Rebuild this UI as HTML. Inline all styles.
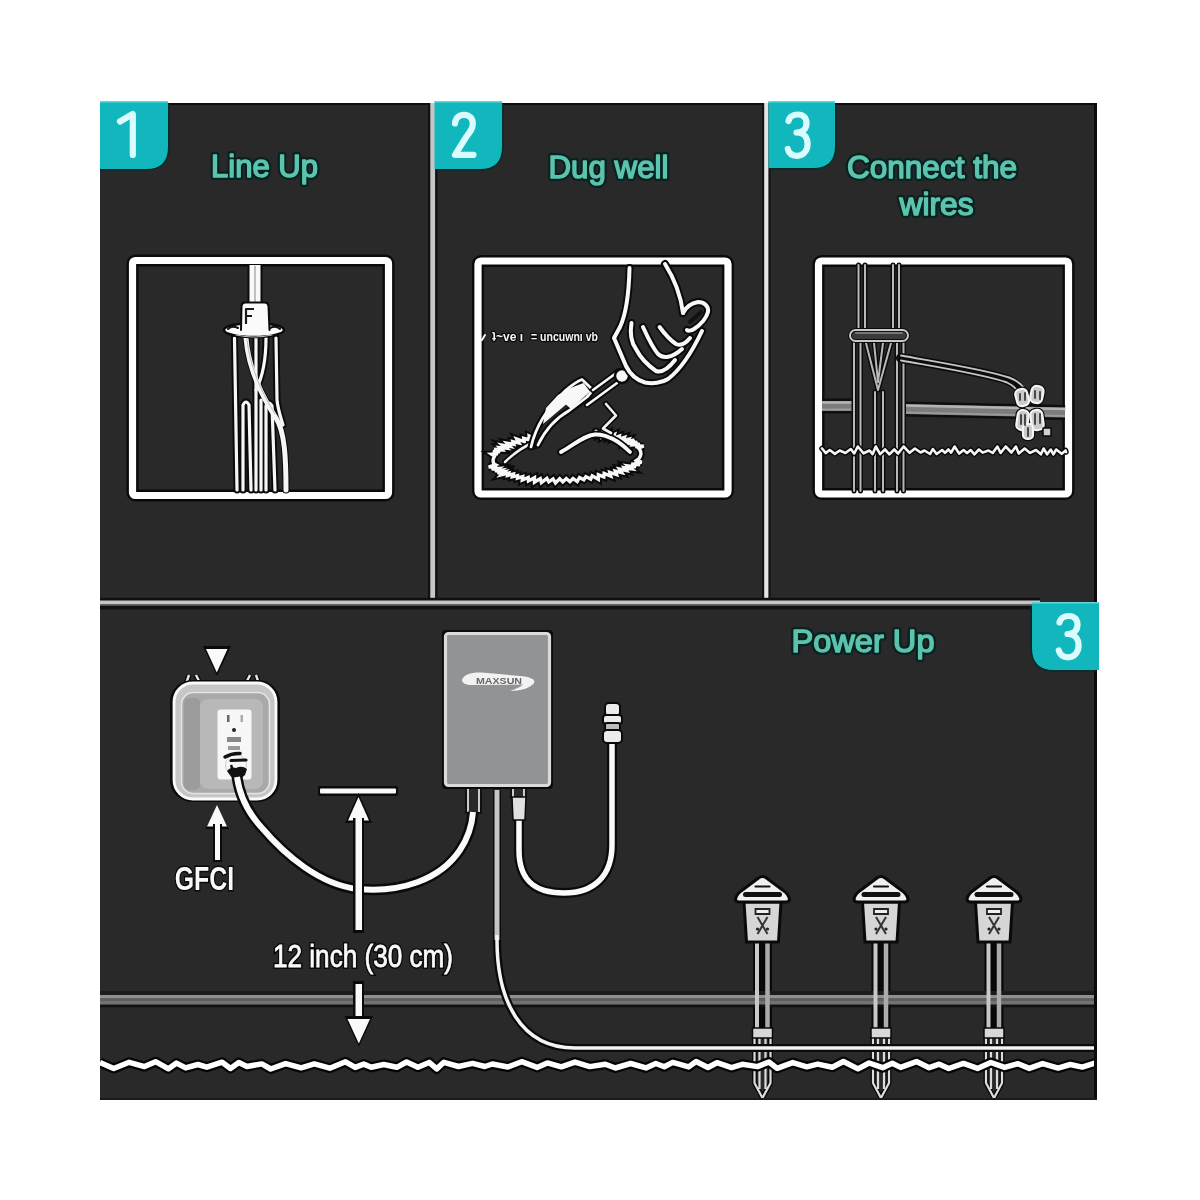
<!DOCTYPE html>
<html><head><meta charset="utf-8">
<style>
html,body{margin:0;padding:0;background:#fff;width:1200px;height:1200px;overflow:hidden}
svg{display:block;will-change:transform}
.t{font-family:"Liberation Sans",sans-serif;font-weight:normal;fill:#5cc4ae;stroke:#5cc4ae;stroke-width:1.5px;stroke-linejoin:round}
.th{font-family:"Liberation Sans",sans-serif;font-weight:normal;fill:#082220;stroke:#082220;stroke-width:6px;stroke-linejoin:round}
.d{font-family:"Liberation Sans",sans-serif;fill:#d9fbfd;stroke:#d9fbfd;stroke-width:1.2px}
.w{fill:none;stroke:#fff;stroke-linecap:round;stroke-linejoin:round}
</style></head>
<body>
<svg width="1200" height="1200" viewBox="0 0 1200 1200">
<!-- dark panel -->
<rect x="100" y="103" width="997" height="997" fill="#292929"/>
<rect x="100" y="103" width="997" height="2" fill="#0e0e0e"/>
<rect x="1094" y="103" width="3" height="997" fill="#0a0a0a"/>
<rect x="100" y="1098" width="997" height="2" fill="#1a1a1a"/>

<!-- separators -->
<rect x="428" y="103" width="9.5" height="500" fill="#111"/>
<rect x="430.3" y="103" width="4.8" height="502" fill="#c6c6c6"/>
<rect x="762" y="103" width="8.5" height="500" fill="#111"/>
<rect x="764.2" y="103" width="4.2" height="502" fill="#e4e4e4"/>
<rect x="100" y="597.8" width="940" height="11.5" fill="#101010"/>
<rect x="100" y="600.5" width="940" height="3.6" fill="#c4c4c4"/>
<rect x="100" y="604.1" width="940" height="1.6" fill="#6a6a6a"/>

<!-- badges -->
<g id="badges">
<g fill="none" stroke="#052a2a" stroke-width="3">
<path d="M168 104 V147 Q168 169 146 169 H100"/>
<path d="M502 104 V147 Q502 169 480 169 H435"/>
<path d="M835 104 V146 Q835 168 813 168 H769"/>
<path d="M1032 606 V648 Q1032 670 1054 670 H1096"/>
</g>
<g fill="#12b7bd">
<path d="M100 101 H168 V147 Q168 169 146 169 H100 Z"/>
<path d="M434.5 101 H502 V147 Q502 169 480 169 H434.5 Z"/>
<path d="M768.5 101 H835 V146 Q835 168 813 168 H768.5 Z"/>
<path d="M1099 602 H1032 V648 Q1032 670 1054 670 H1099 Z"/>
</g>
<g fill="#5fd8dc">
<rect x="100" y="101" width="68" height="1.5"/>
<rect x="434.5" y="101" width="67.5" height="1.5"/>
<rect x="768.5" y="101" width="66.5" height="1.5"/>
<rect x="1032" y="602" width="67" height="1.5"/>
</g>
</g>
<g fill="none" stroke="#dafcfe" stroke-width="6.2" stroke-linecap="round" stroke-linejoin="round">
<path d="M120 121.5 L132.8 114 L132.8 155"/>
<path d="M455 123.5 C455.5 118 459 114.8 464 114.8 C469.5 114.8 472.8 118.5 472.8 123.5 C472.8 128.5 470.5 131.5 466.5 136.5 L455 154.8 L473.5 154.8"/>
<path d="M788.5 121 C789.5 116.5 793.5 114.5 797.8 114.5 C803.5 114.5 806.5 118 806.5 123.2 C806.5 129 802.5 132.5 796.5 132.5 C803.5 132.5 807.6 137 807.6 144 C807.6 151 803 155.8 797.2 155.8 C792.2 155.8 788.8 153 787.8 149"/>
<path transform="translate(271 501.5)" d="M788.5 121 C789.5 116.5 793.5 114.5 797.8 114.5 C803.5 114.5 806.5 118 806.5 123.2 C806.5 129 802.5 132.5 796.5 132.5 C803.5 132.5 807.6 137 807.6 144 C807.6 151 803 155.8 797.2 155.8 C792.2 155.8 788.8 153 787.8 149"/>
</g>

<!-- titles -->
<text class="th" x="264.5" y="177" font-size="32" text-anchor="middle" textLength="107" lengthAdjust="spacingAndGlyphs">Line Up</text>
<text class="th" x="608.5" y="178" font-size="32" text-anchor="middle" textLength="120" lengthAdjust="spacingAndGlyphs">Dug well</text>
<text class="th" x="932" y="178" font-size="32" text-anchor="middle" textLength="170" lengthAdjust="spacingAndGlyphs">Connect the</text>
<text class="th" x="936.5" y="214.5" font-size="32" text-anchor="middle" textLength="74" lengthAdjust="spacingAndGlyphs">wires</text>
<text class="th" x="863" y="652" font-size="32" text-anchor="middle" textLength="143" lengthAdjust="spacingAndGlyphs">Power Up</text>
<text class="t" x="264.5" y="177" font-size="32" text-anchor="middle" textLength="107" lengthAdjust="spacingAndGlyphs">Line Up</text>
<text class="t" x="608.5" y="178" font-size="32" text-anchor="middle" textLength="120" lengthAdjust="spacingAndGlyphs">Dug well</text>
<text class="t" x="932" y="178" font-size="32" text-anchor="middle" textLength="170" lengthAdjust="spacingAndGlyphs">Connect the</text>
<text class="t" x="936.5" y="214.5" font-size="32" text-anchor="middle" textLength="74" lengthAdjust="spacingAndGlyphs">wires</text>
<text class="t" x="863" y="652" font-size="32" text-anchor="middle" textLength="143" lengthAdjust="spacingAndGlyphs">Power Up</text>

<!-- illustration boxes -->
<g fill="none" stroke-linejoin="round">
<rect x="132.5" y="260.5" width="256" height="235" rx="3" stroke="#0a0a0a" stroke-width="12"/>
<rect x="132.5" y="260.5" width="256" height="235" rx="3" stroke="#fff" stroke-width="7.2"/>
<rect x="478" y="261" width="250" height="233" rx="3" stroke="#0a0a0a" stroke-width="12"/>
<rect x="478" y="261" width="250" height="233" rx="3" stroke="#fff" stroke-width="7.2"/>
<rect x="818.5" y="261" width="250" height="233" rx="3" stroke="#0a0a0a" stroke-width="12"/>
<rect x="818.5" y="261" width="250" height="233" rx="3" stroke="#fff" stroke-width="7.2"/>
</g>



<!-- ===== illustration panel 1 ===== -->
<g id="ill1" fill="none" stroke-linecap="round" stroke-linejoin="round">
<g stroke="#0a0a0a" stroke-width="7">
<path d="M234.5 338 L237 490"/>
<path d="M246 338 C248 365 258 390 276 418 C285 432 286 460 286 490"/>
<path d="M256 338 L256 490"/>
<path d="M266 338 C266 360 262 378 256 390"/>
<path d="M276 338 L277 400 C278 410 281 418 283 425"/>
<path d="M243 490 L243 405 Q246 399 249 405 L251 490"/>
<path d="M261 490 L261 400"/>
<path d="M266 490 L266 406 Q269 400 272 406 L275 490"/>
</g>
<g stroke="#f6f6f6" stroke-width="3.2">
<path d="M234.5 338 L237 490"/>
<path d="M256 338 L256 490"/>
<path d="M266 338 C266 360 262 378 256 390"/>
<path d="M276 338 L277 400 C278 410 281 418 283 425"/>
<path d="M243 490 L243 405 Q246 399 249 405 L251 490"/>
<path d="M261 490 L261 400"/>
<path d="M266 490 L266 406 Q269 400 272 406 L275 490"/>
</g>
<path d="M246 338 C248 365 258 390 276 418 C285 432 286 460 286 490" stroke="#f6f6f6" stroke-width="5"/>
<path d="M247 340 C250 365 259 388 275 414" stroke="#bbb" stroke-width="1"/>
<!-- top wire -->
<rect x="247.5" y="265" width="15" height="42" fill="#0a0a0a" stroke="none"/>
<rect x="249.5" y="265" width="11" height="42" fill="#f8f8f8" stroke="none"/>
<path d="M255 266 V304" stroke="#9a9a9a" stroke-width="1.2"/>
<!-- flange -->
<ellipse cx="254" cy="330" rx="30" ry="7" fill="#fafafa" stroke="#0a0a0a" stroke-width="2.5"/>
<path d="M228 329 Q232 325 238 328 M270 328 Q276 325 280 329" stroke="#111" stroke-width="2"/>
<path d="M236 335 Q254 339 272 335" stroke="#bbb" stroke-width="1.2"/>
<!-- connector body -->
<path d="M241 332 L241.5 306 Q242 302.5 245 302.5 L265 302.5 Q268 302.5 268.5 306 L269.5 332 Z" fill="#fafafa" stroke="none"/>
<path d="M241 330 L241.5 306 Q242 302.5 245 302.5 L265 302.5 Q268 302.5 268.5 306 L269.5 330" fill="none" stroke="#0a0a0a" stroke-width="2"/>
<path d="M254 309 L246 309 L246 324 M246 316 L252 316" stroke="#1a1a1a" stroke-width="2.2" stroke-linecap="butt"/>
</g>

<!-- ===== illustration panel 2 ===== -->
<g id="ill2" fill="none" stroke-linecap="round" stroke-linejoin="round">
<!-- hole -->
<path d="M595.9 431.3 L596.7 435.5 L602.6 432.0 L602.1 436.8 L608.5 433.4 L608.0 437.2 L614.3 434.5 L613.0 438.4 L619.1 436.3 L618.2 439.2 L624.2 437.5 L622.8 440.4 L628.3 439.3 L626.4 442.0 L634.3 440.0 L630.3 443.3 L637.3 442.1 L633.8 444.7 L639.9 444.2 L635.3 446.7 L643.7 445.9 L638.6 448.1 L639.7 449.6 L640.5 451.1 L640.8 452.6 L640.9 454.1 L640.5 455.7 L639.8 457.2 L638.8 458.8 L636.8 460.2 L641.8 462.3 L634.6 462.2 L640.0 464.8 L631.3 464.0 L635.9 466.9 L628.0 465.9 L631.4 468.8 L624.4 467.8 L626.2 470.5 L619.4 469.1 L621.7 472.6 L615.3 471.1 L616.5 474.5 L609.8 472.4 L610.8 476.2 L604.1 473.5 L603.8 476.9 L598.4 474.8 L598.3 479.3 L592.2 475.8 L590.7 479.1 L585.9 476.6 L583.8 479.8 L579.5 477.5 L577.2 481.6 L573.0 478.5 L569.9 481.7 L566.3 478.5 L562.8 481.9 L559.7 478.6 L555.5 483.0 L553.1 478.9 L548.8 481.9 L546.8 478.4 L541.4 482.6 L540.3 478.6 L534.5 482.2 L534.5 477.7 L528.5 480.9 L528.2 477.5 L522.3 480.1 L522.7 476.7 L517.4 478.2 L517.5 475.7 L512.5 476.8 L513.3 474.1 L507.8 475.4 L508.6 473.1 L501.6 474.7 L504.6 471.7 L497.4 473.1 L501.3 470.2 L494.9 470.9 L498.4 468.5 L491.5 469.1 L497.1 466.5 L488.6 467.1 L495.5 464.7 L494.0 463.9 L493.4 462.4 L493.1 460.9 L493.2 459.3 L493.7 457.8 L494.5 456.2 L491.6 454.2 L497.9 453.9 L492.9 451.8 L500.0 451.9 L494.1 449.2 L501.9 449.8 L499.8 447.6 L506.4 448.2 L502.8 445.2 L510.2 446.5 L507.2 443.2 L513.8 444.4 L512.9 441.7 L519.0 443.1 L516.8 439.0 L524.2 441.6 L523.8 438.3 L529.4 439.9 L529.1 436.0 L535.3 438.7 L535.9 434.9" stroke="#0a0a0a" stroke-width="7.5" stroke-linejoin="miter" stroke-miterlimit="4"/>
<path d="M595.9 431.3 L596.7 435.5 L602.6 432.0 L602.1 436.8 L608.5 433.4 L608.0 437.2 L614.3 434.5 L613.0 438.4 L619.1 436.3 L618.2 439.2 L624.2 437.5 L622.8 440.4 L628.3 439.3 L626.4 442.0 L634.3 440.0 L630.3 443.3 L637.3 442.1 L633.8 444.7 L639.9 444.2 L635.3 446.7 L643.7 445.9 L638.6 448.1 L639.7 449.6 L640.5 451.1 L640.8 452.6 L640.9 454.1 L640.5 455.7 L639.8 457.2 L638.8 458.8 L636.8 460.2 L641.8 462.3 L634.6 462.2 L640.0 464.8 L631.3 464.0 L635.9 466.9 L628.0 465.9 L631.4 468.8 L624.4 467.8 L626.2 470.5 L619.4 469.1 L621.7 472.6 L615.3 471.1 L616.5 474.5 L609.8 472.4 L610.8 476.2 L604.1 473.5 L603.8 476.9 L598.4 474.8 L598.3 479.3 L592.2 475.8 L590.7 479.1 L585.9 476.6 L583.8 479.8 L579.5 477.5 L577.2 481.6 L573.0 478.5 L569.9 481.7 L566.3 478.5 L562.8 481.9 L559.7 478.6 L555.5 483.0 L553.1 478.9 L548.8 481.9 L546.8 478.4 L541.4 482.6 L540.3 478.6 L534.5 482.2 L534.5 477.7 L528.5 480.9 L528.2 477.5 L522.3 480.1 L522.7 476.7 L517.4 478.2 L517.5 475.7 L512.5 476.8 L513.3 474.1 L507.8 475.4 L508.6 473.1 L501.6 474.7 L504.6 471.7 L497.4 473.1 L501.3 470.2 L494.9 470.9 L498.4 468.5 L491.5 469.1 L497.1 466.5 L488.6 467.1 L495.5 464.7 L494.0 463.9 L493.4 462.4 L493.1 460.9 L493.2 459.3 L493.7 457.8 L494.5 456.2 L491.6 454.2 L497.9 453.9 L492.9 451.8 L500.0 451.9 L494.1 449.2 L501.9 449.8 L499.8 447.6 L506.4 448.2 L502.8 445.2 L510.2 446.5 L507.2 443.2 L513.8 444.4 L512.9 441.7 L519.0 443.1 L516.8 439.0 L524.2 441.6 L523.8 438.3 L529.4 439.9 L529.1 436.0 L535.3 438.7 L535.9 434.9" stroke="#f8f8f8" stroke-width="3.4" stroke-linejoin="miter" stroke-miterlimit="4"/>
<path d="M505 462 C515 452 525 446 536 441" stroke="#0a0a0a" stroke-width="6"/>
<path d="M505 462 C515 452 525 446 536 441" stroke="#f0f0f0" stroke-width="2.5"/>
<!-- inner soil curve -->
<path d="M561 452 C575 444 585 435 595 434.5 C608 434 620 442 630 452" stroke="#0a0a0a" stroke-width="7.5"/>
<path d="M561 452 C575 444 585 435 595 434.5 C608 434 620 442 630 452" stroke="#f8f8f8" stroke-width="3.8"/>
<path d="M606 404 L616 415.5 L603 428.5 L611 433" stroke="#0a0a0a" stroke-width="6"/>
<path d="M606 404 L616 415.5 L603 428.5 L611 433" stroke="#f4f4f4" stroke-width="2.6"/>
<!-- trowel blade -->
<path d="M531 447 C536 425 550 405 566 390 C572 385 578 381 582 379.5 L593 390 L587 397 L570 410 C556 418 545 430 538 445 Z" fill="#262626" stroke="#0a0a0a" stroke-width="7"/>
<path d="M531 447 C536 425 550 405 566 390 C572 385 578 381 582 379.5 L593 390 L587 397 L570 410 C556 418 545 430 538 445" stroke="#f8f8f8" stroke-width="2.8"/>
<path d="M543 424 L566 404.4 L571 409 L590 391.6 L583.5 383 L571.5 387.5 L558 395 L546 408 Z" fill="#f8f8f8" stroke="none"/>
<!-- handle -->
<path d="M593 390 L619 371 M587 405 L617 383" stroke="#0a0a0a" stroke-width="6"/>
<path d="M593 390 L619 371 M587 405 L617 383" stroke="#f8f8f8" stroke-width="2.6"/>
<circle cx="622" cy="376" r="7" fill="#f8f8f8" stroke="#0a0a0a" stroke-width="2.5"/>
<!-- arm + fist -->
<g stroke="#0a0a0a" stroke-width="8">
<path d="M629.5 268 C629 290 627 312 620 327 L614 338 L626 366 C630 374 636 380 645 382.5 C652 384 662 383 668 379 C680 370 692 352 702 331"/>
<path d="M665 264 C672 275 680 290 683 313"/>
<path d="M631.5 323 C630 332 631 342 636 349 C640 357 646 364 656 371 C662 373 668 369 675 360"/>
<path d="M643 327 C648 338 652 347 658 354 C663 359 672 358 682 349"/>
<path d="M659.6 327 C664 333 670 340 676 344 C681 346 686 343 690 338"/>
<path d="M683 313 C686 307 692 303 698 302 C704 302 709 306 708 312 C706 319 700 325 694 329 C691 331 688 331 687 330"/>
</g>
<g stroke="#f8f8f8" stroke-width="4">
<path d="M629.5 268 C629 290 627 312 620 327 L614 338 L626 366 C630 374 636 380 645 382.5 C652 384 662 383 668 379 C680 370 692 352 702 331"/>
<path d="M665 264 C672 275 680 290 683 313"/>
<path d="M631.5 323 C630 332 631 342 636 349 C640 357 646 364 656 371 C662 373 668 369 675 360"/>
<path d="M643 327 C648 338 652 347 658 354 C663 359 672 358 682 349"/>
<path d="M659.6 327 C664 333 670 340 676 344 C681 346 686 343 690 338"/>
<path d="M683 313 C686 307 692 303 698 302 C704 302 709 306 708 312 C706 319 700 325 694 329 C691 331 688 331 687 330"/>
</g>
<path d="M690 322 L701 312" stroke="#111" stroke-width="4"/>
<!-- dashed text -->
<path d="M482 340 L485 335" stroke="#f4f4f4" stroke-width="2"/>
<g font-family="Liberation Sans" font-weight="bold" font-size="12" fill="#f6f6f6" stroke="#0a0a0a" stroke-width="2.5" paint-order="stroke">
<text x="492" y="341" textLength="31" lengthAdjust="spacingAndGlyphs">ʇ~ve ı</text>
<text x="531" y="341" textLength="67" lengthAdjust="spacingAndGlyphs">= uncuwnı vb</text>
</g>
</g>

<!-- ===== illustration panel 3 ===== -->
<g id="ill3" fill="none" stroke-linecap="round" stroke-linejoin="round">
<!-- pipe -->
<path d="M822 406 L855 406 M903 409 L1065 412.5" stroke="#0e0e0e" stroke-width="15" stroke-linecap="butt"/>
<path d="M822 406 L855 406 M903 409 L1065 412.5" stroke="#7c7c7c" stroke-width="10" stroke-linecap="butt"/>
<path d="M822 402.5 L855 402.5 M903 405.5 L1065 409" stroke="#b4b4b4" stroke-width="2.6" stroke-linecap="butt"/>
<path d="M822 409.5 L855 409.5 M903 412.5 L1065 416" stroke="#9a9a9a" stroke-width="2.2" stroke-linecap="butt"/>
<!-- vertical lines top -->
<g stroke="#0c0c0c" stroke-width="5">
<path d="M858.5 265 V331 M865 265 V331 M893 265 V331 M899 265 V331"/>
<path d="M854 340 V491 M860.5 340 V491 M897 340 V491 M903.5 340 V491"/>
<path d="M866 343 L878 390 L891 343 M874 343 L878 382 L883 343"/>
<path d="M875 392 V491 M883 392 V491"/>
</g>
<g stroke="#b8b8b8" stroke-width="2">
<path d="M858.5 265 V331 M865 265 V331 M893 265 V331 M899 265 V331"/>
<path d="M854 340 V491 M860.5 340 V491 M897 340 V491 M903.5 340 V491"/>
<path d="M866 343 L878 390 L891 343 M874 343 L878 382 L883 343"/>
<path d="M875 392 V491 M883 392 V491"/>
</g>
<rect x="850" y="330" width="58" height="11" rx="5.5" fill="#3a3a3a" stroke="#0c0c0c" stroke-width="4"/>
<rect x="850" y="330" width="58" height="11" rx="5.5" stroke="#c8c8c8" stroke-width="2"/>
<path d="M856 333 H902" stroke="#777" stroke-width="2"/>
<!-- wire -->
<path d="M901 358 C940 365 985 372 1008 380 C1018 384 1022 390 1024 396" stroke="#0c0c0c" stroke-width="10"/>
<path d="M901 355.5 C940 362.5 985 369.5 1009 377.5 C1020 381.5 1025 388 1027 394" stroke="#c4c4c4" stroke-width="1.9"/>
<path d="M901 360.5 C940 367.5 985 374.5 1007 382.5 C1016 386.5 1019 392 1021 398" stroke="#c4c4c4" stroke-width="1.9"/>
<!-- connector cluster -->
<g stroke="#0a0a0a" stroke-width="4.5" fill="#0a0a0a">
<rect x="1016" y="389" width="12" height="17" rx="5" transform="rotate(-15 1022 397)"/>
<rect x="1031" y="386" width="12" height="17" rx="5" transform="rotate(12 1037 394)"/>
<rect x="1017" y="410" width="11" height="20" rx="5" transform="rotate(8 1022 420)"/>
<rect x="1031" y="410" width="12" height="20" rx="5" transform="rotate(-8 1037 420)"/>
<rect x="1023" y="424" width="10" height="15" rx="4"/>
</g>
<g stroke="#f4f4f4" stroke-width="2.2" fill="#cacaca">
<rect x="1016" y="389" width="12" height="17" rx="5" transform="rotate(-15 1022 397)"/>
<rect x="1031" y="386" width="12" height="17" rx="5" transform="rotate(12 1037 394)"/>
<rect x="1017" y="410" width="11" height="20" rx="5" transform="rotate(8 1022 420)"/>
<rect x="1031" y="410" width="12" height="20" rx="5" transform="rotate(-8 1037 420)"/>
<rect x="1023" y="424" width="10" height="15" rx="4"/>
</g>
<path d="M1020 394 v6 M1025 393 v7 M1035 391 v7 M1040 392 v7 M1021 415 v9 M1025 415 v10 M1035 414 v10 M1040 414 v9 M1028 428 v8" stroke="#3a3a3a" stroke-width="1.8"/>
<rect x="1043" y="428" width="8" height="8" fill="#d0d0d0" stroke="#0a0a0a" stroke-width="1.5"/>
<!-- grass -->
<polyline points="822.0,448.5 825.9,453.1 829.7,450.0 834.9,453.9 839.7,450.5 845.4,453.0 850.8,449.0 854.2,453.5 857.8,446.5 863.6,453.3 869.6,450.5 872.6,454.1 875.8,446.5 880.1,454.1 885.0,449.5 889.4,454.3 894.2,449.5 898.1,453.5 903.6,446.5 909.6,452.8 914.9,448.5 920.6,452.5 924.4,450.5 930.1,454.0 932.8,449.0 936.6,454.0 942.1,450.0 945.0,452.9 948.4,449.5 951.1,452.6 954.6,446.5 959.2,453.6 963.6,450.0 967.0,453.1 970.7,450.0 974.4,454.3 978.9,449.5 982.6,452.6 988.5,450.5 992.7,453.0 997.4,446.5 1000.6,453.0 1005.7,446.5 1011.4,452.5 1015.9,446.5 1018.8,453.5 1024.7,448.5 1030.0,452.9 1036.0,450.0 1040.9,454.3 1043.6,448.5 1047.1,454.3 1050.7,449.5 1053.4,454.4 1056.2,449.5 1061.7,453.8 1065.6,450.5 1066.0,452.0" stroke="#0a0a0a" stroke-width="5.5"/>
<polyline points="822.0,448.5 825.9,453.1 829.7,450.0 834.9,453.9 839.7,450.5 845.4,453.0 850.8,449.0 854.2,453.5 857.8,446.5 863.6,453.3 869.6,450.5 872.6,454.1 875.8,446.5 880.1,454.1 885.0,449.5 889.4,454.3 894.2,449.5 898.1,453.5 903.6,446.5 909.6,452.8 914.9,448.5 920.6,452.5 924.4,450.5 930.1,454.0 932.8,449.0 936.6,454.0 942.1,450.0 945.0,452.9 948.4,449.5 951.1,452.6 954.6,446.5 959.2,453.6 963.6,450.0 967.0,453.1 970.7,450.0 974.4,454.3 978.9,449.5 982.6,452.6 988.5,450.5 992.7,453.0 997.4,446.5 1000.6,453.0 1005.7,446.5 1011.4,452.5 1015.9,446.5 1018.8,453.5 1024.7,448.5 1030.0,452.9 1036.0,450.0 1040.9,454.3 1043.6,448.5 1047.1,454.3 1050.7,449.5 1053.4,454.4 1056.2,449.5 1061.7,453.8 1065.6,450.5 1066.0,452.0" stroke="#f6f6f6" stroke-width="2.6"/>
</g>

<!-- ===== bottom panel ===== -->
<clipPath id="pc"><rect x="100" y="103" width="994" height="995"/></clipPath>
<g id="bottom" clip-path="url(#pc)">
<use href="#lampback" transform="translate(762.5 877)"/>
<use href="#lampback" transform="translate(881 877)"/>
<use href="#lampback" transform="translate(994 877)"/>
<!-- pipe -->
<rect x="100" y="991" width="994" height="4" fill="#1c1c1c"/>
<rect x="100" y="1004.5" width="994" height="2.8" fill="#111"/>
<rect x="100" y="995" width="994" height="3.6" fill="#909090"/>
<rect x="100" y="998.6" width="994" height="2.4" fill="#5e5e5e"/>
<rect x="100" y="1001" width="994" height="3.5" fill="#727272"/>
<!-- lamps -->
<use href="#lamp" transform="translate(762.5 877)"/>
<use href="#lamp" transform="translate(881 877)"/>
<use href="#lamp" transform="translate(994 877)"/>
<!-- main cable from box -->
<path d="M497 790 L497 940 C497 1000 520 1048 575 1048 L1094 1048" fill="none" stroke="#0a0a0a" stroke-width="8"/>
<path d="M497 790 L497 940" fill="none" stroke="#c4c4c4" stroke-width="5"/>
<path d="M497 935 L497 940 C497 1000 520 1048 575 1048 L1094 1048" fill="none" stroke="#f4f4f4" stroke-width="3.5"/>
<!-- ground wave -->
<polyline points="100.0,1062.6 113.7,1068.5 129.2,1062.3 144.5,1066.6 155.6,1061.7 168.5,1068.8 176.5,1063.1 185.7,1067.9 197.9,1064.5 206.8,1067.2 222.1,1062.2 230.5,1068.5 238.8,1062.6 246.9,1066.5 261.8,1063.9 270.7,1069.0 285.6,1063.6 301.2,1067.8 314.3,1063.9 329.8,1068.2 345.5,1061.8 355.2,1067.4 363.7,1064.1 371.2,1067.3 383.7,1064.5 396.8,1067.3 406.6,1062.0 417.9,1067.3 429.2,1062.4 436.7,1068.9 443.9,1062.3 458.5,1066.5 472.6,1063.4 484.8,1066.5 492.3,1064.0 507.9,1067.0 521.7,1061.7 537.1,1067.4 547.3,1062.9 561.3,1066.8 575.0,1062.1 589.8,1066.6 605.3,1064.2 615.4,1068.0 630.6,1063.5 645.9,1067.9 655.8,1063.5 664.3,1066.7 672.7,1062.4 688.7,1066.9 696.1,1061.5 707.9,1067.5 717.0,1062.7 731.5,1067.6 742.3,1064.3 757.5,1066.6 769.0,1062.0 777.1,1068.3 792.7,1062.6 806.8,1066.8 817.7,1064.1 832.3,1067.2 843.4,1061.5 858.0,1068.9 869.1,1063.0 882.7,1067.7 892.3,1063.3 900.6,1067.4 916.5,1061.6 929.2,1067.7 939.2,1064.2 948.7,1068.5 963.5,1063.4 977.5,1068.4 990.8,1062.5 1004.6,1067.4 1018.0,1063.7 1029.3,1068.4 1042.6,1063.6 1058.1,1068.1 1070.3,1064.5 1082.2,1067.1 1095.3,1063.1 1097.0,1065.0" fill="none" stroke="#050505" stroke-width="10" stroke-linejoin="round"/>
<polyline points="100.0,1062.6 113.7,1068.5 129.2,1062.3 144.5,1066.6 155.6,1061.7 168.5,1068.8 176.5,1063.1 185.7,1067.9 197.9,1064.5 206.8,1067.2 222.1,1062.2 230.5,1068.5 238.8,1062.6 246.9,1066.5 261.8,1063.9 270.7,1069.0 285.6,1063.6 301.2,1067.8 314.3,1063.9 329.8,1068.2 345.5,1061.8 355.2,1067.4 363.7,1064.1 371.2,1067.3 383.7,1064.5 396.8,1067.3 406.6,1062.0 417.9,1067.3 429.2,1062.4 436.7,1068.9 443.9,1062.3 458.5,1066.5 472.6,1063.4 484.8,1066.5 492.3,1064.0 507.9,1067.0 521.7,1061.7 537.1,1067.4 547.3,1062.9 561.3,1066.8 575.0,1062.1 589.8,1066.6 605.3,1064.2 615.4,1068.0 630.6,1063.5 645.9,1067.9 655.8,1063.5 664.3,1066.7 672.7,1062.4 688.7,1066.9 696.1,1061.5 707.9,1067.5 717.0,1062.7 731.5,1067.6 742.3,1064.3 757.5,1066.6 769.0,1062.0 777.1,1068.3 792.7,1062.6 806.8,1066.8 817.7,1064.1 832.3,1067.2 843.4,1061.5 858.0,1068.9 869.1,1063.0 882.7,1067.7 892.3,1063.3 900.6,1067.4 916.5,1061.6 929.2,1067.7 939.2,1064.2 948.7,1068.5 963.5,1063.4 977.5,1068.4 990.8,1062.5 1004.6,1067.4 1018.0,1063.7 1029.3,1068.4 1042.6,1063.6 1058.1,1068.1 1070.3,1064.5 1082.2,1067.1 1095.3,1063.1 1097.0,1065.0" fill="none" stroke="#fff" stroke-width="5.5" stroke-linejoin="round"/>
<!-- right cable -->
<path d="M519 818 L519 850 C519 885 540 893 564 893 C595 893 612 875 612 845 L612 742" fill="none" stroke="#0a0a0a" stroke-width="10"/>
<path d="M519 818 L519 850 C519 885 540 893 564 893 C595 893 612 875 612 845 L612 742" fill="none" stroke="#fafafa" stroke-width="5.5"/>
<!-- right plug connector -->
<g stroke="#0a0a0a" stroke-width="2" fill="#ececec">
<rect x="605" y="703" width="15" height="13" rx="4"/>
<rect x="603" y="715" width="19" height="9" rx="3"/>
<rect x="605" y="723" width="15" height="8" rx="2" fill="#bbb"/>
<rect x="603" y="730" width="19" height="13" rx="4"/>
</g>
<!-- connectors under box -->
<g stroke="#0a0a0a" stroke-width="1.5">
<rect x="466" y="786" width="15" height="27" fill="#2a2a2a"/>
<path d="M468 788 V812 M479 788 V812" stroke="#ccc" stroke-width="2"/>
<rect x="511" y="786" width="15" height="12" fill="#2a2a2a"/>
<path d="M513 788 V798 M524 788 V798" stroke="#ccc" stroke-width="2"/>
<path d="M512 797 H526 L525 820 H513 Z" fill="#e0e0e0"/>
</g>
<!-- power box -->
<rect x="442" y="630" width="111" height="159" rx="4" fill="#0a0a0a"/>
<rect x="445.5" y="633.5" width="104" height="152" rx="3" fill="#929397" stroke="#dadada" stroke-width="3.2"/>
<path d="M462 680 C464 674 472 672 482 672.5 L520 676 C530 677 536 679 534 683 C531 688 520 691 510 691 C518 688 522 686 523 684.5 L472 685 C466 685 462 683 462 680 Z" fill="#f2f2f2"/>
<text x="499" y="684" font-family="Liberation Sans" font-weight="bold" font-size="8.5" fill="#666" text-anchor="middle" textLength="46" lengthAdjust="spacingAndGlyphs">MAXSUN</text>
<!-- GFCI outlet -->
<path d="M217 812 L205 829 L229 829 Z" fill="#0a0a0a"/>
<path d="M217 805 L207 826.5 L227 826.5 Z" fill="#fafafa"/>
<rect x="213" y="824" width="9" height="38" fill="#0a0a0a"/>
<rect x="215" y="824" width="5" height="36" fill="#fafafa"/>
<text x="204.5" y="890" font-family="Liberation Sans" font-weight="bold" font-size="33.5" fill="#fafafa" stroke="#0a0a0a" stroke-width="3" paint-order="stroke" text-anchor="middle" textLength="59.5" lengthAdjust="spacingAndGlyphs">GFCI</text>
<path d="M203 646 L231 646 L217 676 Z" fill="#0a0a0a"/>
<path d="M206 649 L227.5 649 L216.8 672.5 Z" fill="#fafafa"/>
<path d="M186 684 L189 675 M200 683 L196 675 M246 683 L250 675 M259 684 L256 675" stroke="#0a0a0a" stroke-width="5"/>
<path d="M186 684 L189 675 M200 683 L196 675 M246 683 L250 675 M259 684 L256 675" stroke="#e8e8e8" stroke-width="2.4"/>
<rect x="170" y="680" width="110" height="122" rx="22" fill="#0a0a0a"/>
<rect x="174" y="683" width="102" height="116" rx="19" fill="#c6c6c6" stroke="#fafafa" stroke-width="2.8"/>
<rect x="181.5" y="692.5" width="88" height="101" rx="12" fill="#a9a9a9" stroke="#e4e4e4" stroke-width="1.6"/>
<rect x="184" y="698" width="16" height="92" rx="5" fill="#9c9c9c"/>
<rect x="200" y="699" width="63" height="90" rx="8" fill="#b8b8b8"/>
<rect x="217.5" y="709.5" width="34" height="70" rx="3" fill="#f7f7f7"/>
<rect x="227" y="715" width="2.5" height="7" fill="#666"/>
<rect x="240.5" y="715" width="2.5" height="7" fill="#aaa"/>
<circle cx="234" cy="730" r="2" fill="#222"/>
<rect x="227" y="737" width="14" height="5" fill="#888"/>
<rect x="228" y="746" width="12" height="4" fill="#999"/>
<circle cx="236" cy="765" r="10.5" fill="#f6f6f6" stroke="#cfcfcf" stroke-width="1"/>
<path d="M225 757 Q232 753 240 753.5" stroke="#111" stroke-width="3.5" fill="none" stroke-linecap="round"/>
<path d="M231 760.5 L246 760" stroke="#111" stroke-width="3.2" fill="none" stroke-linecap="round"/>
<path d="M227 771 Q231 766 236 768 Q242 765 247 769 L245 775 Q239 781 232 778 Z" fill="#111"/>
<path d="M231 765 L233 771" stroke="#111" stroke-width="2.5"/>
<!-- left cable (outlet to box) -->
<path d="M237 777 C240 798 249 814 262 828 C285 855 320 885 358 889 C400 893 440 880 460 850 C468 838 472 825 473 812" fill="none" stroke="#0a0a0a" stroke-width="11"/>
<path d="M237 777 C240 798 249 814 262 828 C285 855 320 885 358 889 C400 893 440 880 460 850 C468 838 472 825 473 812" fill="none" stroke="#fafafa" stroke-width="6"/>

<!-- T bar and arrows -->
<rect x="318" y="786" width="80" height="10" rx="2" fill="#0a0a0a"/>
<rect x="320" y="788.5" width="76" height="5" rx="1" fill="#f8f8f8"/>
<path d="M358.5 793 L345 823 L372 823 Z" fill="#0a0a0a"/>
<path d="M358.5 797 L348 820.5 L369 820.5 Z" fill="#fafafa"/>
<rect x="353" y="818" width="11" height="115" fill="#0a0a0a"/>
<rect x="355.5" y="818" width="6.5" height="112" fill="#fafafa"/>
<rect x="353" y="981" width="11" height="40" fill="#0a0a0a"/>
<rect x="355.5" y="984" width="6.5" height="37" fill="#fafafa"/>
<path d="M344.5 1016 L373 1016 L358.8 1047 Z" fill="#0a0a0a"/>
<path d="M347.5 1019 L370 1019 L358.8 1043.5 Z" fill="#fafafa"/>
<text x="363" y="967" font-family="Liberation Sans" font-size="31" fill="#0a0a0a" stroke="#0a0a0a" stroke-width="4" text-anchor="middle" textLength="180" lengthAdjust="spacingAndGlyphs">12 inch (30 cm)</text>
<text x="363" y="967" font-family="Liberation Sans" font-size="31" fill="#fafafa" stroke="#fafafa" stroke-width="0.8" text-anchor="middle" textLength="180" lengthAdjust="spacingAndGlyphs">12 inch (30 cm)</text>
</g>

<defs><rect id="lampback" x="-9.5" y="60" width="19" height="95" fill="#080808"/><g id="lamp">
<path d="M-5.5 65 V152" stroke="#c8c8c8" stroke-width="4" fill="none"/>
<path d="M5 65 V152" stroke="#ababab" stroke-width="4.5" fill="none"/>
<path d="M-8 158 L-8 206 L0 221 L8 206 L8 158" fill="none" stroke="#0a0a0a" stroke-width="5" stroke-linejoin="round"/>
<path d="M-8 158 L-8 206 L0 221 L8 206 L8 158 M-3 160 V212 M3 160 V212" fill="none" stroke="#dcdcdc" stroke-width="2.2" stroke-linejoin="round"/>
<rect x="-10" y="151" width="20" height="10" fill="#d8d8d8" stroke="#0a0a0a" stroke-width="1.5"/>
<path d="M-18.5 25 L-16 65 L16 65 L18.5 25 Z" fill="#d6d6d6" stroke="#0a0a0a" stroke-width="3"/>
<path d="M-7 32 h14 v5 h-14 z" fill="#f0f0f0" stroke="#222" stroke-width="1.8"/>
<path d="M-5 40 L5 57 M5 40 L-5 57" stroke="#333" stroke-width="2" fill="none"/>
<circle cx="-5" cy="52" r="1.6" fill="#222"/><circle cx="5" cy="52" r="1.6" fill="#222"/>
<path d="M-27 22 Q-26 17 -20 13 L-4 1 Q0 -2 4 1 L20 13 Q26 17 27 22 Q27 25 23 25 L-23 25 Q-27 25 -27 22 Z" fill="#f0f0f0" stroke="#0a0a0a" stroke-width="3"/>
<path d="M-17 17.5 L17 17.5" stroke="#111" stroke-width="5" stroke-linecap="round"/>
<path d="M-7 9.5 L7 9.5" stroke="#111" stroke-width="2.2" stroke-linecap="round"/>
</g></defs>
</svg>
</body></html>
